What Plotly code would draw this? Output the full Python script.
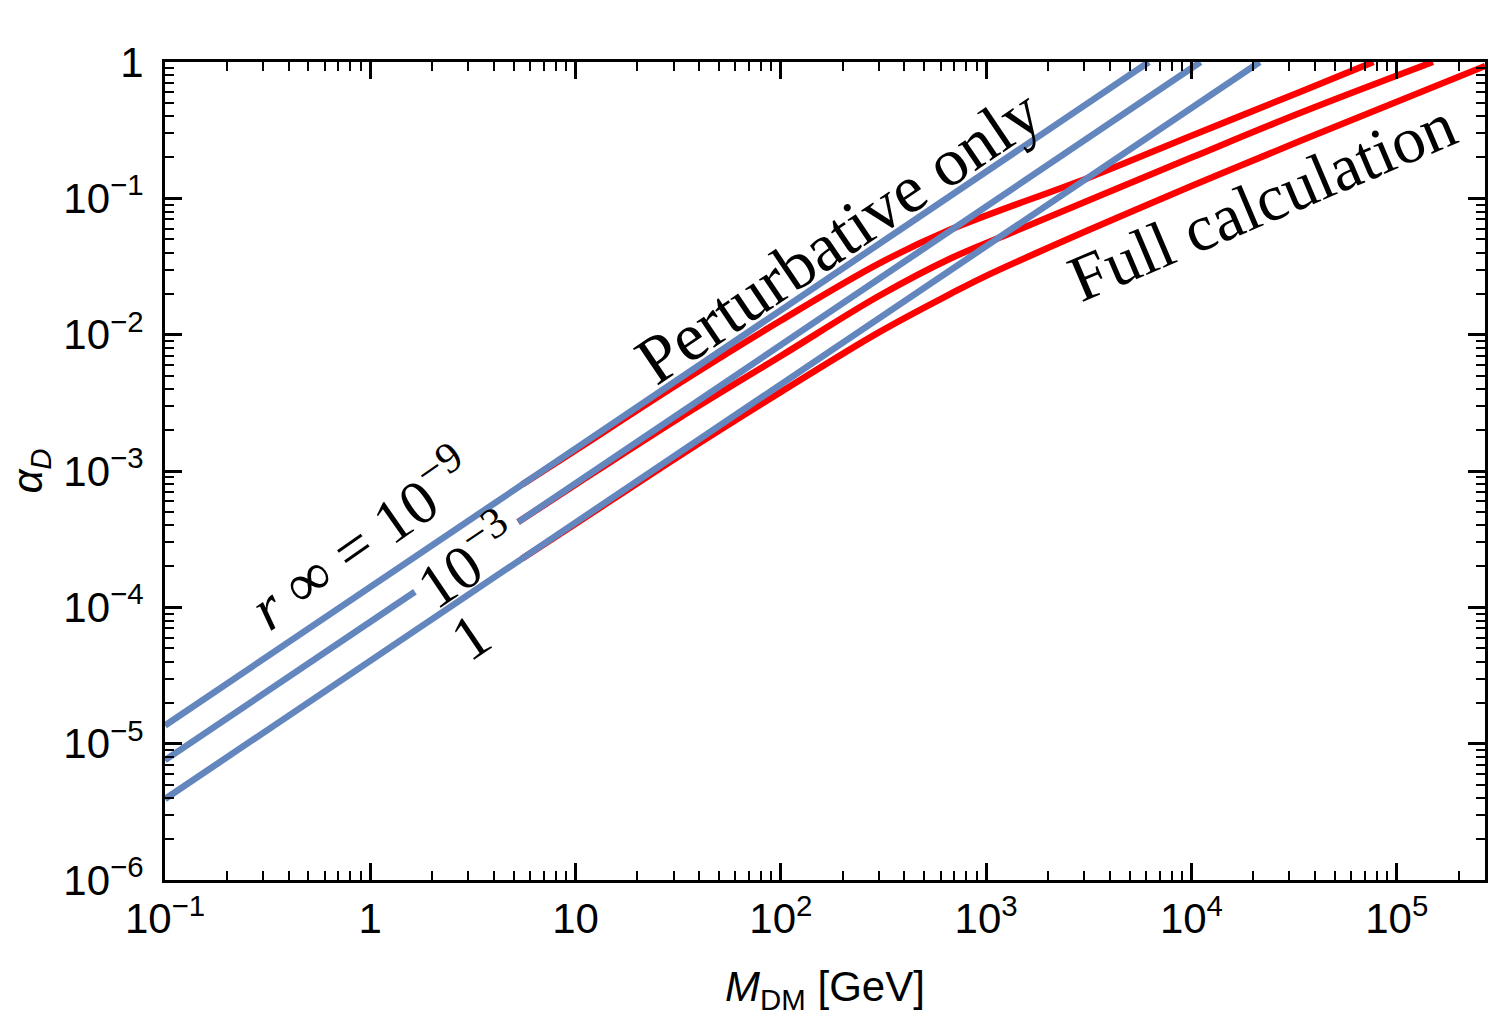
import plotly.graph_objects as go

# ---------------- data ----------------
# perturbative-only curves (blue); None marks the gap left for the label
m_pert_1e9 = [0.1, 1, 10, 100, 1000, 6200]
a_pert_1e9 = [1.36e-5, 1.41e-4, 1.46e-3, 1.52e-2, 0.157, 1.0]

m_pert_1e3 = [0.1, 1, 1.65, None, 5.25, 10, 100, 1000, 1e4, 1.107e4]
a_pert_1e3 = [7.57e-6, 7.84e-5, 1.30e-4, None, 4.22e-4, 8.12e-4, 8.41e-3, 8.71e-2, 0.902, 1.0]

m_pert_1 = [0.1, 1, 10, 100, 1000, 1e4, 2.15e4]
a_pert_1 = [3.93e-6, 4.05e-5, 4.18e-4, 4.32e-3, 4.46e-2, 0.459, 1.0]

# full-calculation curves (red)
m_full_1e9 = [5.5, 10, 32, 100, 300, 670, 3200, 1e4, 3.4e4, 7.7e4]
a_full_1e9 = [7.96e-4, 1.42e-3, 4.40e-3, 1.27e-2, 3.32e-2, 5.9e-2, 0.143, 0.288, 0.604, 1.0]

m_full_1e3 = [5.25, 10, 32, 100, 300, 670, 1300, 1e4, 3.4e4, 1.5e5]
a_full_1e3 = [4.22e-4, 7.95e-4, 2.45e-3, 6.98e-3, 1.92e-2, 3.62e-2, 5.52e-2, 0.199, 0.424, 1.0]

m_full_1 = [5.5, 10, 32, 100, 300, 670, 1000, 3200, 1e4, 3.4e4, 2.7e5]
a_full_1 = [2.28e-4, 4.10e-4, 1.29e-3, 3.80e-3, 1.04e-2, 1.99e-2, 2.70e-2, 5.9e-2, 0.123, 0.264, 0.935]

# ticks
x_major = [0.1, 1, 10, 100, 1000, 1e4, 1e5]
x_labels = ["10<sup>−1</sup>", "1", "10", "10<sup>2</sup>", "10<sup>3</sup>",
            "10<sup>4</sup>", "10<sup>5</sup>"]
y_major = [1e-6, 1e-5, 1e-4, 1e-3, 1e-2, 1e-1, 1]
y_labels = ["10<sup>−6</sup>", "10<sup>−5</sup>", "10<sup>−4</sup>", "10<sup>−3</sup>",
            "10<sup>−2</sup>", "10<sup>−1</sup>", "1"]
x_decades = [-1, 0, 1, 2, 3, 4, 5]
y_decades = [-6, -5, -4, -3, -2, -1]
minor_digits = [2, 3, 4, 5, 6, 7, 8, 9]
x_minor = [d * 10.0 ** e for e in x_decades for d in minor_digits if d * 10.0 ** e < 2.7e5]
y_minor = [d * 10.0 ** e for e in y_decades for d in minor_digits]

BLUE = "#6286BD"
RED = "#FF0000"

fig = go.Figure()
for mx, ay in [(m_full_1e9, a_full_1e9), (m_full_1e3, a_full_1e3), (m_full_1, a_full_1)]:
    fig.add_trace(go.Scatter(x=mx, y=ay, mode="lines",
                             line=dict(color=RED, width=6.5, shape="spline", smoothing=1.0),
                             showlegend=False, hoverinfo="skip"))
for mx, ay in [(m_pert_1e9, a_pert_1e9), (m_pert_1e3, a_pert_1e3), (m_pert_1, a_pert_1)]:
    fig.add_trace(go.Scatter(x=mx, y=ay, mode="lines", connectgaps=False,
                             line=dict(color=BLUE, width=6.5),
                             showlegend=False, hoverinfo="skip"))

tickfont = dict(family="Liberation Sans, Arial, sans-serif", size=42, color="black")
axis_common = dict(
    type="log", showline=True, linecolor="black", linewidth=3, mirror="allticks",
    ticks="inside", ticklen=17, tickwidth=2.5, tickcolor="black",
    showgrid=False, zeroline=False, tickfont=tickfont,
)

fig.update_xaxes(**axis_common, range=[-1, 5.43], tickmode="array",
                 tickvals=x_major, ticktext=x_labels,
                 minor=dict(tickmode="array", tickvals=x_minor, ticks="inside",
                            ticklen=9, tickwidth=2, tickcolor="black", showgrid=False),
                 title=dict(text="<i>M</i><sub>DM</sub> [GeV]", standoff=32,
                            font=dict(family="Liberation Sans, Arial, sans-serif",
                                      size=42, color="black")))
fig.update_yaxes(**axis_common, range=[-6, 0], tickmode="array",
                 tickvals=y_major, ticktext=y_labels, ticklabelstandoff=10,
                 minor=dict(tickmode="array", tickvals=y_minor, ticks="inside",
                            ticklen=9, tickwidth=2, tickcolor="black", showgrid=False),
                 title=dict(text="<i>α</i><sub><i>D</i></sub>", standoff=8,
                            font=dict(family="Liberation Sans, Arial, sans-serif",
                                      size=42, color="black")))

serif = dict(family="Liberation Serif, Times New Roman, serif", size=60, color="black")
W, H = 1320.0, 820.0
L, T = 165.0, 62.0


def px(xp, yp):
    return (xp - L) / W, (T + H - yp) / H


annots = [
    ("Perturbative only", 838, 236, -34, 68),
    ("Full calculation", 1262, 202, -23, 66),
    ("<i>r</i> ∞ = 10<sup>−9</sup>", 360, 538, -35, 62),
    ("10<sup>−3</sup>", 466, 560, -34, 62),
    ("1", 470, 638, -34, 62),
]
for txt, xp_, yp_, ang, sz in annots:
    ax_, ay_ = px(xp_, yp_)
    f = dict(serif)
    f["size"] = sz
    fig.add_annotation(text=txt, x=ax_, y=ay_, xref="paper", yref="paper",
                       showarrow=False, textangle=ang, font=f,
                       xanchor="center", yanchor="middle")

fig.update_layout(width=1500, height=1016, paper_bgcolor="white", plot_bgcolor="white",
                  margin=dict(l=165, r=15, t=62, b=134), showlegend=False)

fig.write_html("out.html")
